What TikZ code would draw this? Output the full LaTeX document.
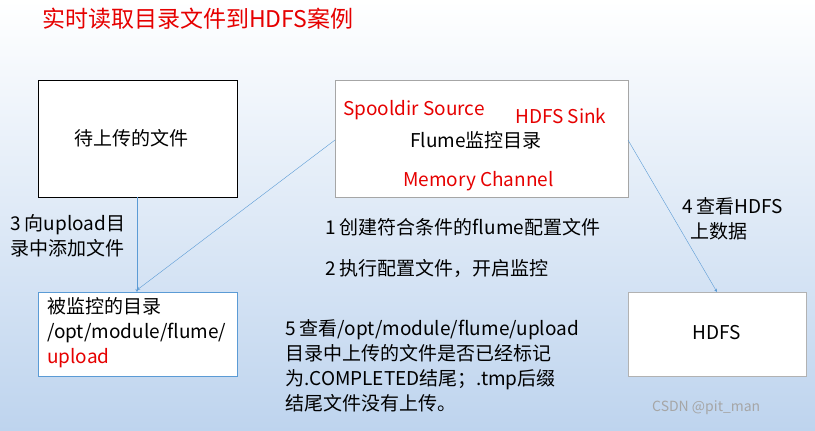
\documentclass[tikz,border=0pt]{standalone}
\usepackage{fontspec}
\setmainfont{Noto Sans CJK SC}
\begin{document}
\begin{tikzpicture}[x=1pt,y=-1pt,
  box/.style={draw,fill=white,inner sep=0pt},
  txt/.style={font=\fontsize{19}{25}\selectfont,align=left,anchor=west,inner sep=0pt},
  red/.style={text={rgb,255:red,230;green,0;blue,0}},
  arr/.style={draw={rgb,255:red,91;green,155;blue,213},->,>=stealth}]
\shade[top color=white,bottom color={rgb,255:red,190;green,212;blue,238}] (0,0) rectangle (815,431);
\useasboundingbox (0,0) rectangle (815,431);
\node[txt,red,font=\fontsize{23}{26}\selectfont] (title) at (42,19) {实时读取目录文件到HDFS案例};
\node[box,draw=black,minimum width=199pt,minimum height=117pt,anchor=north west] (up) at (38,80) {};
\node[txt] (upt) at (74,138) {待上传的文件};
\node[box,draw=gray!70,minimum width=293pt,minimum height=117pt,anchor=north west] (fl) at (335,80) {};
\node[txt,red] (src) at (343,110) {Spooldir Source};
\node[txt,red] (sink) at (515,116) {HDFS Sink};
\node[txt] (flt) at (410,140) {Flume监控目录};
\node[txt,red] (mem) at (403,181) {Memory Channel};
\node[box,draw={rgb,255:red,91;green,155;blue,213},minimum width=199pt,minimum height=84pt,anchor=north west] (mon) at (38,292) {};
\node[txt,align=left,anchor=north west] (mont) at (47,297) {被监控的目录\\/opt/module/flume/\\\textcolor[RGB]{230,0,0}{upload}};
\node[box,draw=gray!60,minimum width=178pt,minimum height=84pt,anchor=north west] (hd) at (628,292) {};
\node[txt,anchor=center] (hdt) at (717,333) {HDFS};
\coordinate (a1) at (137,197);
\coordinate (a2) at (137,292);
\draw[arr] (a1) -- (a2);
\coordinate (b1) at (335,140);
\coordinate (b2) at (137,290);
\draw[arr] (b1) -- (b2);
\coordinate (c1) at (628,140);
\coordinate (c2) at (717,292);
\draw[arr] (c1) -- (c2);
\node[txt,anchor=north west] (s3) at (10,214) {3 向upload目\\录中添加文件};
\node[txt] (s1) at (325,227) {1 创建符合条件的flume配置文件};
\node[txt] (s2) at (325,268) {2 执行配置文件，开启监控};
\node[txt,anchor=north west] (s4) at (682,197) {4 查看HDFS\\\ \ 上数据};
\node[txt,anchor=north west] (s5) at (285,319) {5 查看/opt/module/flume/upload\\目录中上传的文件是否已经标记\\为.COMPLETED结尾；.tmp后缀\\结尾文件没有上传。};
\node[txt,text=gray!70,font=\fontsize{14}{15}\selectfont] (wm) at (652,408) {CSDN @pit\_man};
\end{tikzpicture}
\end{document}
